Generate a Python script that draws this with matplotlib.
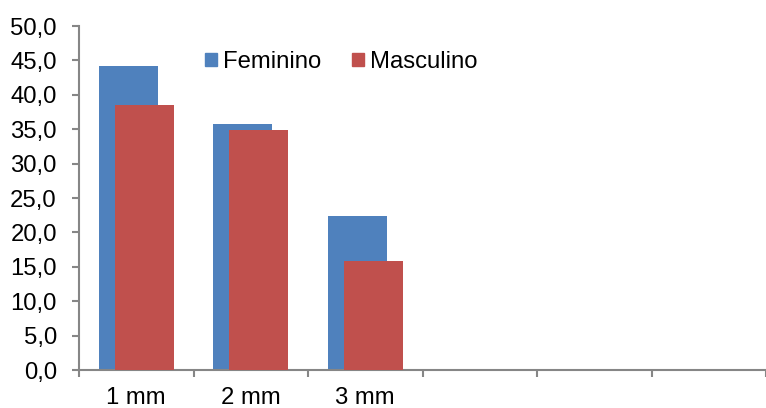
import numpy as np
import matplotlib.pyplot as plt
from matplotlib.patches import Patch

plt.rcParams['font.family'] = ['Liberation Sans', 'DejaVu Sans']

categories = ['1 mm', '2 mm', '3 mm', '', '', '']
feminino = [44.2, 35.7, 22.4]
masculino = [38.5, 34.9, 15.8]

blue = '#4F81BD'
red = '#C0504D'
grey = '#868686'
fs = 17.2

W, H = 766, 408
fig = plt.figure(figsize=(W / 100, H / 100), dpi=100)
ax = fig.add_axes([79 / W, (H - 370) / H, (W - 79) / W, 344 / H])

x = np.arange(len(feminino))
bw = 0.515
off = 0.069
ax.bar(x - off, feminino, bw, color=blue, zorder=2)
ax.bar(x + off, masculino, bw, color=red, zorder=3)

ax.set_ylim(0, 50)
ax.set_xlim(-0.5, -0.5 + (W - 79) / 116.3)
ax.set_yticks(np.arange(0, 50.1, 5))
ax.set_yticklabels([f'{v:.1f}'.replace('.', ',') for v in np.arange(0, 50.1, 5)], fontsize=fs)

ax.set_xticks(np.arange(len(categories)))
ax.set_xticklabels(categories, fontsize=fs)
ax.set_xticks(np.arange(len(categories) + 1) - 0.5, minor=True)
ax.tick_params(axis='x', which='major', length=0, pad=12.5)
ax.tick_params(axis='x', which='minor', length=5, width=1.5, color=grey, direction='out')
ax.tick_params(axis='y', length=5, width=1.5, color=grey, direction='out', pad=11)

for s in ['top', 'right']:
    ax.spines[s].set_visible(False)
for s in ['left', 'bottom']:
    ax.spines[s].set_color(grey)
    ax.spines[s].set_linewidth(1.5)

handles = [Patch(color=blue, label='Feminino'), Patch(color=red, label='Masculino')]
fig.legend(handles=handles, loc='center left', bbox_to_anchor=(205 / W, 1 - 62 / H),
           ncol=2, frameon=False, fontsize=fs, handlelength=0.5, handleheight=0.5,
           handletextpad=0.25, columnspacing=1.3, borderpad=0, borderaxespad=0)

fig.savefig('out.png', dpi=100)
